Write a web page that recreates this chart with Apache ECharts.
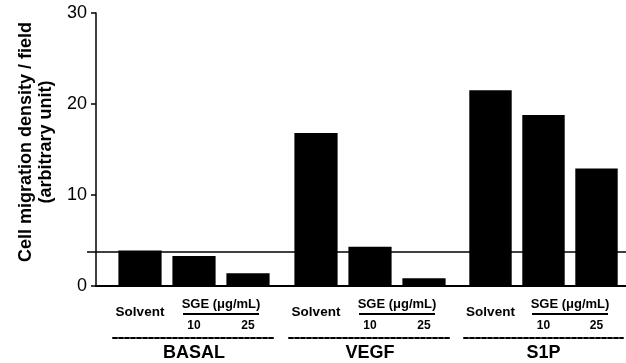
<!DOCTYPE html>
<html>
<head>
<meta charset="utf-8">
<script src="https://cdn.jsdelivr.net/npm/echarts@6/dist/echarts.min.js"></script>
<style>html,body{margin:0;padding:0;background:#fff}#c{width:626px;height:363px}</style>
</head>
<body>
<div id="c"></div>
<script>
// ---- data ----
const groups = ['BASAL', 'VEGF', 'S1P'];
const conditions = ['Solvent', '10', '25'];
const doseTitle = 'SGE (μg/mL)';
const basalValues = [3.9, 3.3, 1.4];
const vegfValues = [16.8, 4.3, 0.85];
const s1pValues = [21.5, 18.8, 12.9];
const thresholdValue = 3.75;
const yMin = 0, yMax = 30, yInterval = 10;
const yAxisTitle = 'Cell migration density / field\n(arbitrary unit)';

// ---- layout/style ----
const FONT = 'Liberation Sans, Arial, sans-serif';
const groupValues = [basalValues, vegfValues, s1pValues];
const groupLefts = [113, 289, 464];
const TOP = 13, BOTTOM = 77;

const grid = [
  { left: 96, right: 0, top: TOP, bottom: BOTTOM },
  { left: 87, right: 0, top: TOP, bottom: BOTTOM }
];
const xAxis = [
  { gridIndex: 0, type: 'value', min: 0, max: 1,
    axisLine: { show: true, lineStyle: { color: '#000', width: 2 } },
    axisTick: { show: false }, axisLabel: { show: false }, splitLine: { show: false } },
  { gridIndex: 1, type: 'value', min: 0, max: 1, show: false }
];
const yAxis = [
  { gridIndex: 0, type: 'value', min: yMin, max: yMax, interval: yInterval,
    name: yAxisTitle, nameLocation: 'middle', nameGap: 35,
    nameTextStyle: { fontFamily: FONT, fontWeight: 'bold', fontSize: 18, lineHeight: 20, color: '#000', padding: [0, 0, 0, 15] },
    axisLine: { show: true, lineStyle: { color: '#000', width: 1.5 } },
    axisTick: { show: true, length: 5, lineStyle: { color: '#000', width: 1.5 } },
    axisLabel: { fontFamily: FONT, fontSize: 18, color: '#000', margin: 9 },
    splitLine: { show: false } },
  { gridIndex: 1, type: 'value', min: yMin, max: yMax, show: false }
];
const series = [
  { type: 'line', xAxisIndex: 1, yAxisIndex: 1, data: [],
    markLine: { symbol: 'none', silent: true, label: { show: false },
      lineStyle: { color: '#000', type: 'solid', width: 1.5 },
      data: [{ yAxis: thresholdValue }] } }
];

groups.forEach((g, i) => {
  const gi = grid.length;
  grid.push({ left: groupLefts[i], width: 162, top: TOP, bottom: BOTTOM });
  const condIdx = xAxis.length;
  xAxis.push({
    gridIndex: gi, type: 'category', data: conditions, position: 'bottom',
    axisLine: { show: false }, axisTick: { show: false },
    axisLabel: {
      interval: 0, margin: 19, verticalAlign: 'top',
      formatter: (v, k) => k === 0 ? '{s|' + v + '}' : '{gap|}\n{n|' + v + '}',
      rich: {
        s: { fontFamily: FONT, fontWeight: 'bold', fontSize: 13.5, lineHeight: 14, color: '#000' },
        gap: { height: 14, lineHeight: 14 },
        n: { fontFamily: FONT, fontWeight: 'bold', fontSize: 12, lineHeight: 14, color: '#000' }
      }
    }
  });
  xAxis.push({
    gridIndex: gi, type: 'category', boundaryGap: false, data: ['', '', doseTitle, ''], position: 'bottom',
    axisLine: { show: false }, axisTick: { show: false },
    axisLabel: {
      interval: 0, margin: 11, verticalAlign: 'top',
      formatter: v => v ? '{t|' + v + '}\n{u|}' : '',
      rich: {
        t: { fontFamily: FONT, fontWeight: 'bold', fontSize: 13, lineHeight: 14, color: '#000' },
        u: { width: 76, height: 2, lineHeight: 6, backgroundColor: '#000' }
      }
    }
  });
  xAxis.push({
    gridIndex: gi, type: 'category', data: [g], position: 'bottom', offset: 52,
    axisLine: { show: true, lineStyle: { color: '#000', width: 2, type: [4, 2] } },
    axisTick: { show: false },
    axisLabel: { interval: 0, margin: 6, verticalAlign: 'top', fontFamily: FONT, fontWeight: 'bold', fontSize: 18, lineHeight: 18, color: '#000' }
  });
  const yi = yAxis.length;
  yAxis.push({ gridIndex: gi, type: 'value', min: yMin, max: yMax, show: false });
  series.push({
    type: 'bar', xAxisIndex: condIdx, yAxisIndex: yi, data: groupValues[i],
    barWidth: '80%', itemStyle: { color: '#000' }, silent: true
  });
});

const chart = echarts.init(document.getElementById('c'), null, { renderer: 'canvas' });
chart.setOption({ animation: false, backgroundColor: '#fff', grid, xAxis, yAxis, series });
</script>
</body>
</html>
